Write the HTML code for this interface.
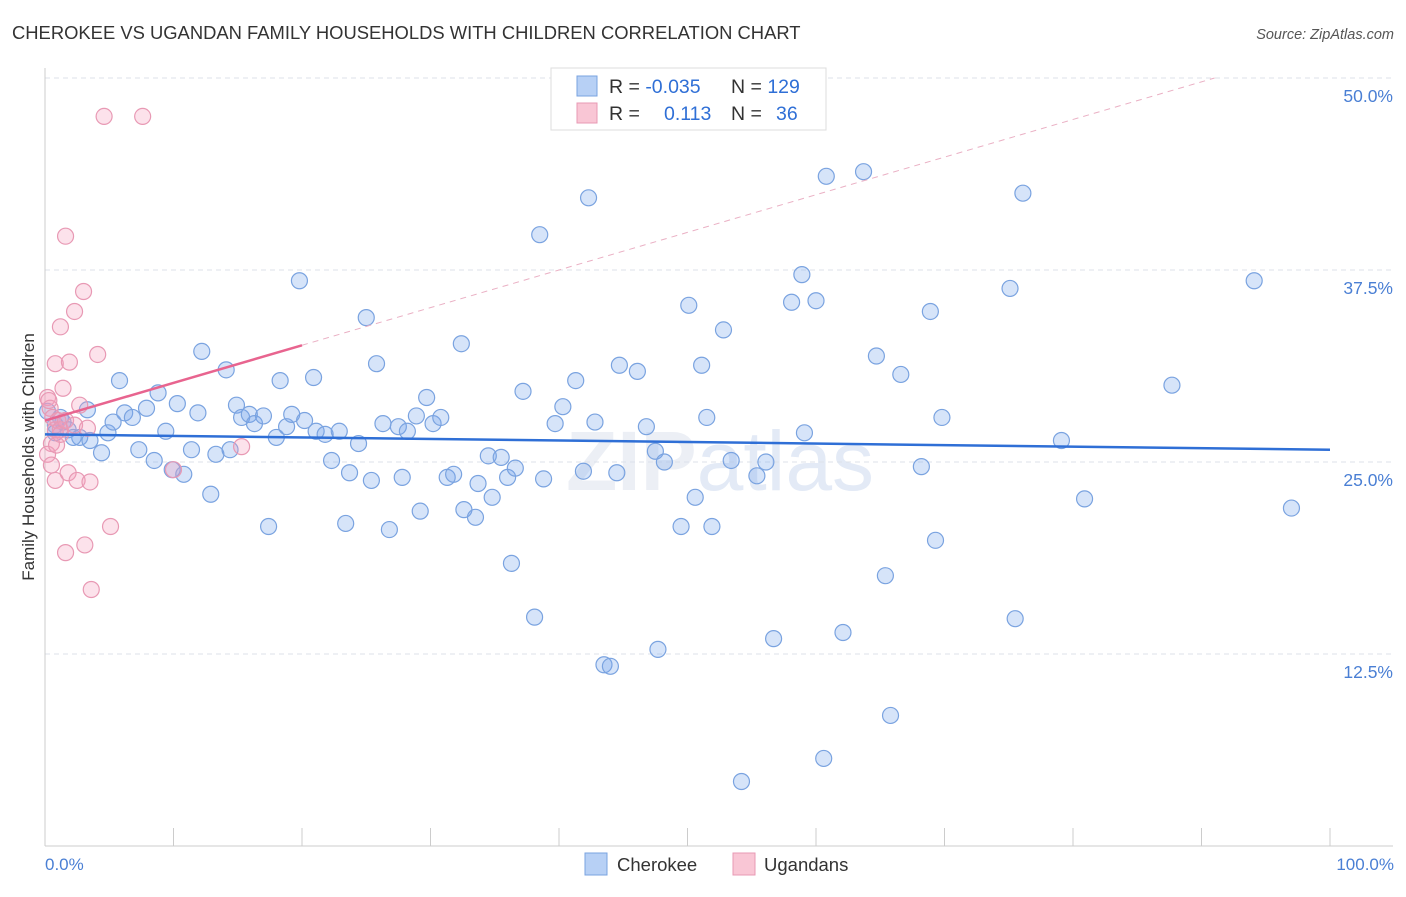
<!DOCTYPE html>
<html><head><meta charset="utf-8"><style>
body{margin:0;background:#fff;font-family:"Liberation Sans",sans-serif;}
svg text{font-family:"Liberation Sans",sans-serif;}
</style></head><body>
<svg id="chart" width="1406" height="892" xmlns="http://www.w3.org/2000/svg">
<text x="12" y="39" font-size="18.4" fill="#333">CHEROKEE VS UGANDAN FAMILY HOUSEHOLDS WITH CHILDREN CORRELATION CHART</text>
<text x="1394" y="39" font-size="14.5" fill="#555" font-style="italic" text-anchor="end">Source: ZipAtlas.com</text>
<text x="720" y="490" font-size="84" fill="#eceff5" text-anchor="middle" font-weight="bold">ZIP<tspan font-weight="normal" fill="#e3eaf6">atlas</tspan></text>
<g id="grid"></g>
<g id="axes"></g>
<g id="pts"></g>
<text transform="translate(34,457) rotate(-90)" font-size="17" fill="#333" text-anchor="middle">Family Households with Children</text>
<text x="45" y="870" font-size="17" fill="#4a7fd4">0.0%</text>
<text x="1394" y="870" font-size="17" fill="#4a7fd4" text-anchor="end">100.0%</text>
<g>
<rect x="551" y="68" width="275" height="62" fill="#fff" stroke="#ddd"/>
<rect x="577" y="76" width="20" height="20" fill="#b7d0f5" stroke="#7aa3e0"/>
<rect x="577" y="103" width="20" height="20" fill="#f9c6d5" stroke="#e899b4"/>
<text x="609" y="93" font-size="19.5" fill="#333">R = <tspan fill="#2f6fd6">-0.035</tspan></text>
<text x="731" y="93" font-size="19.5" fill="#333">N = <tspan fill="#2f6fd6">129</tspan></text>
<text x="609" y="120" font-size="19.5" fill="#333">R = <tspan fill="#2f6fd6" x="664">0.113</tspan></text>
<text x="731" y="120" font-size="19.5" fill="#333">N = <tspan fill="#2f6fd6" x="776">36</tspan></text>
</g>
<g>
<rect x="585" y="853" width="22" height="22" fill="#b7d0f5" stroke="#7aa3e0"/>
<text x="617" y="871" font-size="18.5" fill="#333">Cherokee</text>
<rect x="733" y="853" width="22" height="22" fill="#f9c6d5" stroke="#e899b4"/>
<text x="764" y="871" font-size="18.5" fill="#333">Ugandans</text>
</g>
</svg>
<script>
const yTicks=[12.5,25,37.5,50];
const blueX=[0.2,0.8,1.2,1.8,2.7,3.3,4.4,4.9,5.3,5.8,6.2,6.8,7.3,7.9,8.5,8.8,9.4,9.9,10.3,10.8,11.4,11.9,12.2,12.9,13.3,14.1,14.4,14.9,15.3,15.9,16.3,17.0,17.4,18.0,18.3,18.8,19.2,19.8,20.2,20.9,21.1,21.8,22.3,22.9,23.4,23.7,24.4,25.0,25.4,25.8,26.3,26.8,27.5,27.8,28.2,28.9,29.2,29.7,30.2,30.8,31.3,31.8,32.4,32.6,33.5,33.7,34.5,34.8,35.5,36.0,36.3,36.6,37.2,38.1,38.5,38.8,39.7,40.3,41.3,41.9,42.3,42.8,43.5,44.0,44.5,44.7,46.1,46.8,47.5,47.7,48.2,49.5,50.1,50.6,51.1,51.5,51.9,52.8,53.4,54.2,55.4,56.1,56.7,58.1,58.9,59.1,60.0,60.6,60.8,62.1,63.7,64.7,65.4,65.8,66.6,68.2,68.9,69.3,69.8,75.1,75.5,76.1,79.1,80.9,87.7,94.1,97.0,0.8,1.4,2.2,3.5];
const blueY=[28.3,27.4,27.9,27.1,26.6,28.4,25.6,26.9,27.6,30.3,28.2,27.9,25.8,28.5,25.1,29.5,27.0,24.5,28.8,24.2,25.8,28.2,32.2,22.9,25.5,31.0,25.8,28.7,27.9,28.1,27.5,28.0,20.8,26.6,30.3,27.3,28.1,36.8,27.7,30.5,27.0,26.8,25.1,27.0,21.0,24.3,26.2,34.4,23.8,31.4,27.5,20.6,27.3,24.0,27.0,28.0,21.8,29.2,27.5,27.9,24.0,24.2,32.7,21.9,21.4,23.6,25.4,22.7,25.3,24.0,18.4,24.6,29.6,14.9,39.8,23.9,27.5,28.6,30.3,24.4,42.2,27.6,11.8,11.7,24.3,31.3,30.9,27.3,25.7,12.8,25.0,20.8,35.2,22.7,31.3,27.9,20.8,33.6,25.1,4.2,24.1,25.0,13.5,35.4,37.2,26.9,35.5,5.7,43.6,13.9,43.9,31.9,17.6,8.5,30.7,24.7,34.8,19.9,27.9,36.3,14.8,42.5,26.4,22.6,30.0,36.8,22.0,26.9,27.6,26.6,26.4];
const pinkX=[0.2,0.4,0.6,0.8,1.0,0.5,0.2,0.5,0.8,0.8,0.9,1.2,1.2,1.4,1.6,1.6,1.8,1.9,2.3,2.5,2.7,3.0,3.1,3.5,3.6,4.1,4.6,5.1,7.6,10.0,15.3,1.2,1.6,2.3,3.3,0.3];
const pinkY=[29.2,28.5,27.9,27.1,27.7,26.2,25.5,24.8,23.8,31.4,26.1,33.8,27.1,29.8,19.1,39.7,24.3,31.5,34.8,23.8,28.7,36.1,19.6,23.7,16.7,32.0,47.5,20.8,47.5,24.5,26.0,26.8,27.7,27.4,27.2,29.0];
const blueTrend=[26.8,25.8];
const pinkTrend=[27.7,32.6];
const NS='http://www.w3.org/2000/svg';
const X=v=>45+v*12.85, Y=v=>846-v*15.36;
function mk(p,t,a){const e=document.createElementNS(NS,t);for(const k in a)e.setAttribute(k,a[k]);p.appendChild(e);return e;}
const grid=document.getElementById('grid'),axes=document.getElementById('axes'),pts=document.getElementById('pts');
yTicks.forEach(v=>{
 const l=mk(grid,'line',{x1:45,x2:1393,y1:Y(v),y2:Y(v),stroke:'#dde2ea','stroke-dasharray':'5,4'});
 
 
 const t=mk(grid,'text',{x:1393,y:Y(v)+24,'font-size':17.5,fill:'#4a7fd4','text-anchor':'end'});
 t.textContent=v.toFixed(1)+'%';
 
 
});
mk(axes,'line',{x1:45,x2:45,y1:68,y2:846,stroke:'#ccc'});
mk(axes,'line',{x1:45,x2:1393,y1:846,y2:846,stroke:'#ccc'});
for(let i=0;i<=10;i++){const tk=mk(axes,'line',{x1:X(i*10),x2:X(i*10),y1:828,y2:846,stroke:'#ccc'});
 
 }
blueX.forEach((x,i)=>{const c=mk(pts,'circle',{cx:X(x),cy:Y(blueY[i]),r:8,fill:'rgba(120,165,235,0.3)',stroke:'#7aa3e0','stroke-width':1.2});
 
 });
pinkX.forEach((x,i)=>{const c=mk(pts,'circle',{cx:X(x),cy:Y(pinkY[i]),r:8,fill:'rgba(245,160,190,0.3)',stroke:'#e899b4','stroke-width':1.2});
 
 });
const slope=(pinkTrend[1]-pinkTrend[0])/20;
const xe=(50-pinkTrend[0])/slope;
const pd=mk(pts,'line',{x1:X(20),y1:Y(pinkTrend[1]),x2:X(xe),y2:Y(50),stroke:'#eab0c4','stroke-dasharray':'6,5','stroke-width':1});


const pl=mk(pts,'line',{x1:X(0),y1:Y(pinkTrend[0]),x2:X(20),y2:Y(pinkTrend[1]),stroke:'#e8648f','stroke-width':2.5});


const bl=mk(pts,'line',{x1:X(0),y1:Y(blueTrend[0]),x2:X(100),y2:Y(blueTrend[1]),stroke:'#2f6fd6','stroke-width':2.5});


</script>
</body></html>
